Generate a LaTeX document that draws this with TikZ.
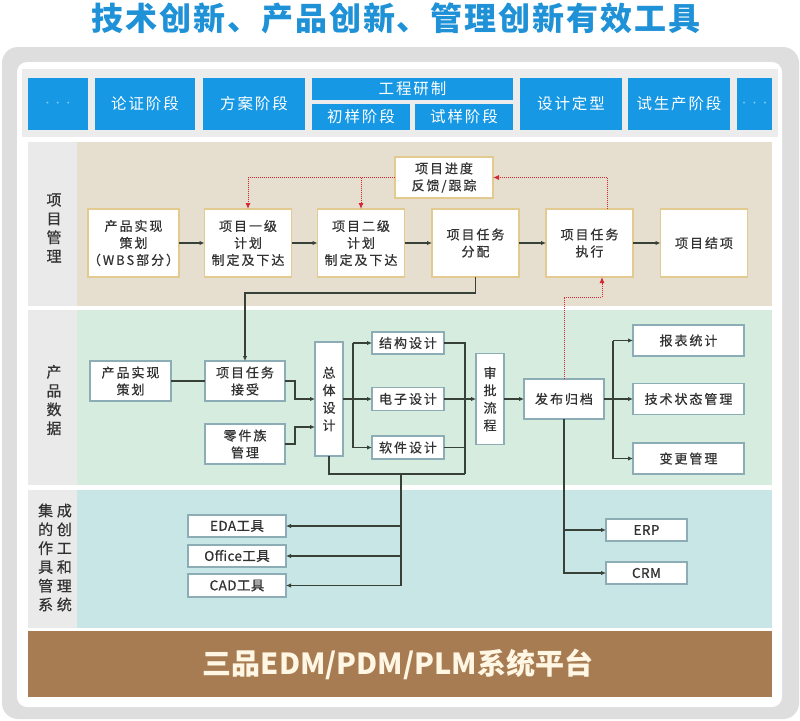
\documentclass[tikz,border=0pt]{standalone}
\usepackage{fontspec}
\setmainfont{Noto Sans CJK SC}
\newfontfamily\bxf{Noto Sans CJK SC}[LetterSpace=15,FakeBold=0.6]
\newfontfamily\ltf{Noto Sans CJK SC}[LetterSpace=3,FakeBold=0.6]
\newfontfamily\hdf{Noto Sans CJK SC}[LetterSpace=12]
\newfontfamily\ttlf{Noto Sans CJK SC}[LetterSpace=6]
\newfontfamily\lblf{Noto Sans CJK SC}[LetterSpace=25,FakeBold=0.5]
\usetikzlibrary{arrows.meta}
\definecolor{framegray}{RGB}{222,222,222}
\definecolor{headgray}{RGB}{236,236,236}
\definecolor{labgray}{RGB}{234,234,234}
\definecolor{beige}{RGB}{230,222,206}
\definecolor{mint}{RGB}{213,236,222}
\definecolor{aqua}{RGB}{200,230,230}
\definecolor{platbrown}{RGB}{168,124,82}
\definecolor{hblue}{RGB}{22,152,228}
\definecolor{titleblue}{RGB}{30,145,215}
\definecolor{tanborder}{RGB}{226,202,145}
\definecolor{tealborder}{RGB}{140,172,182}
\definecolor{txtgray}{RGB}{50,50,50}
\definecolor{lnc}{RGB}{55,65,55}
\definecolor{redl}{RGB}{212,40,50}
\definecolor{cream}{RGB}{255,246,228}
\definecolor{dotblue}{RGB}{140,205,245}
\tikzset{
  hbox/.style={fill=hblue, text=white, inner sep=0pt, outer sep=0pt, font=\hdf\fontsize{15.5}{17}\selectfont},
  dotbox/.style={fill=hblue, text=dotblue, inner sep=0pt, outer sep=0pt, font=\fontsize{9}{10}\selectfont},
  pbox/.style={draw=tanborder, line width=1.3pt, fill=white, text=txtgray, inner sep=0pt, outer sep=0pt, align=center, minimum width=87pt, minimum height=68pt, font=\bxf\fontsize{13}{17}\selectfont},
  gbox/.style={draw=tealborder, line width=1.1pt, fill=white, text=txtgray, inner sep=0pt, outer sep=0pt, align=center, font=\bxf\fontsize{13}{17}\selectfont},
  tbox/.style={gbox, font=\ltf\fontsize{13.5}{17}\selectfont},
  vbox/.style={gbox, font=\bxf\fontsize{13}{17.5}\selectfont},
  lbl/.style={text=txtgray, align=center, font=\lblf\fontsize{15}{18.8}\selectfont},
  conn/.style={draw=lnc, line width=1.3pt},
  arr/.style={conn, -{Latex[length=5pt,width=4.5pt]}},
  reddot/.style={draw=redl, line width=1pt, densely dotted, -{Latex[length=6pt,width=5pt]}}
}
\begin{document}
\begin{tikzpicture}[x=1pt,y=-1pt]
\useasboundingbox (0,0) rectangle (800,720);
\fill[white] (0,0) rectangle (800,720);
% title
\node[font=\ttlf\bfseries\fontsize{32}{36}\selectfont, text=titleblue] (title) at (396,18) {技术创新、产品创新、管理创新有效工具};
% frame
\fill[framegray, rounded corners=16pt] (2,47) rectangle (799,719);
\fill[white, rounded corners=10pt] (17,62) rectangle (782,707);
\fill[headgray] (22,69) rectangle (778,137);
% bands
\fill[labgray] (28,142) rectangle (77,306);
\fill[beige] (77,142) rectangle (772,306);
\fill[labgray] (28,310) rectangle (77,485);
\fill[mint] (77,310) rectangle (772,485);
\fill[labgray] (28,490) rectangle (77,628);
\fill[aqua] (77,490) rectangle (772,628);
\fill[platbrown] (28,631) rectangle (772,697);
% header
\node[dotbox, minimum width=60pt, minimum height=52pt] (h0) at (58,104) {·\,·\,·};
\node[hbox, minimum width=100pt, minimum height=52pt] (h1) at (145,104) {论证阶段};
\node[hbox, minimum width=102pt, minimum height=52pt] (h2) at (254,104) {方案阶段};
\node[hbox, minimum width=201pt, minimum height=22pt] (h3) at (412.5,89) {工程研制};
\node[hbox, minimum width=98pt, minimum height=26pt] (h4) at (361,117) {初样阶段};
\node[hbox, minimum width=98pt, minimum height=26pt] (h5) at (464,117) {试样阶段};
\node[hbox, minimum width=102pt, minimum height=52pt] (h6) at (571,104) {设计定型};
\node[hbox, minimum width=102pt, minimum height=52pt] (h7) at (679,104) {试生产阶段};
\node[dotbox, minimum width=35pt, minimum height=52pt] (h8) at (754.5,104) {·\,·\,·};
% row labels
\node[lbl] (l1) at (54,228) {项\\目\\管\\理};
\node[lbl] (l2) at (54,400) {产\\品\\数\\据};
\node[lbl] (l3) at (55,557.5) {集成\\的创\\作工\\具和\\管理\\系统};
% project management row
\node[pbox] (a1) at (133.5,243) {产品实现\\策划\\（WBS部分）};
\node[pbox] (a2) at (248,243) {项目一级\\计划\\制定及下达};
\node[pbox] (a3) at (361,243) {项目二级\\计划\\制定及下达};
\node[pbox] (a4) at (475.5,243) {项目任务\\分配};
\node[pbox] (a5) at (589.5,243) {项目任务\\执行};
\node[pbox] (a6) at (704,243) {项目结项};
\node[pbox, minimum width=98pt, minimum height=41pt] (fb) at (444,177.5) {项目进度\\反馈/跟踪};
% product data row
\node[gbox, minimum width=81pt, minimum height=40pt] (b1) at (130.5,381) {产品实现\\策划};
\node[gbox, minimum width=80pt, minimum height=40pt] (b2) at (245,381) {项目任务\\接受};
\node[gbox, minimum width=80pt, minimum height=40pt] (b3) at (245,444) {零件族\\管理};
\node[vbox, minimum width=28pt, minimum height=114pt] (b4) at (329,399) {总\\体\\设\\计};
\node[gbox, minimum width=72pt, minimum height=22pt] (c1) at (408,343) {结构设计};
\node[gbox, minimum width=72pt, minimum height=23pt] (c2) at (408,399) {电子设计};
\node[gbox, minimum width=72pt, minimum height=23pt] (c3) at (408,447.5) {软件设计};
\node[vbox, minimum width=28pt, minimum height=91pt] (d) at (490,399) {审\\批\\流\\程};
\node[gbox, minimum width=80pt, minimum height=40pt] (e) at (564,399) {发布归档};
\node[gbox, minimum width=111pt, minimum height=31pt] (f1) at (688.5,340.5) {报表统计};
\node[gbox, minimum width=111pt, minimum height=31pt] (f2) at (688.5,399) {技术状态管理};
\node[gbox, minimum width=111pt, minimum height=31pt] (f3) at (688.5,458.5) {变更管理};
% tools row
\node[tbox, minimum width=98pt, minimum height=22pt] (t1) at (237,526) {EDA工具};
\node[tbox, minimum width=98pt, minimum height=22pt] (t2) at (237,556) {Office工具};
\node[tbox, minimum width=98pt, minimum height=23pt] (t3) at (237,585.5) {CAD工具};
\node[tbox, minimum width=81pt, minimum height=22pt] (erp) at (646.5,530) {ERP};
\node[tbox, minimum width=81pt, minimum height=22pt] (crm) at (646.5,573) {CRM};
% platform
\node[font=\bfseries\fontsize{29}{32}\selectfont, text=cream] (plat) at (398,664) {三品EDM/PDM/PLM系统平台};
% connectors: project management
\draw[arr] (a1) -- (a2);
\draw[arr] (a2) -- (a3);
\draw[arr] (a3) -- (a4);
\draw[arr] (a4) -- (a5);
\draw[arr] (a5) -- (a6);
\draw[reddot] ([xshift=17.5pt]a5.north) |- (fb.east);
\draw[reddot] (fb.west) -| (a2.north);
\draw[reddot] (a3.north |- fb.west) -- (a3.north);
\draw[arr] (a4.south) -- ++(0,16) -| (b2.north);
% product data
\draw[conn] (b1) -- (b2);
\draw[arr] (b2.east) -- ++(10,0) |- (b4.west);
\draw[arr] (b3.east) -- ++(10,0) |- ([yshift=-28pt]b4.west);
\draw[arr] (b4.east) -- (c2.west);
\coordinate (bj) at ([xshift=10pt]b4.east);
\draw[conn] (bj |- c1.west) -- (bj |- c3.west);
\draw[arr] (bj |- c1.west) -- (c1.west);
\draw[arr] (bj |- c3.west) -- (c3.west);
\coordinate (cbot) at (465,474);
\draw[conn] (c1.east) -| (cbot);
\draw[conn] (c3.east) -- (c3.east -| cbot);
\draw[arr] (c2.east) -- (d.west);
\draw[conn] (b4.south) |- (cbot);
\coordinate (tj) at (401,474);
\draw[arr] (tj) |- (t3.east);
\draw[arr] (tj |- t1.east) -- (t1.east);
\draw[arr] (tj |- t2.east) -- (t2.east);
\draw[arr] (d.east) -- (e.west);
\draw[arr] (e.east) -- (f2.west);
\coordinate (ej) at ([xshift=9pt]e.east);
\draw[conn] (ej |- f1.west) -- (ej |- f3.west);
\draw[arr] (ej |- f1.west) -- (f1.west);
\draw[arr] (ej |- f3.west) -- (f3.west);
\draw[arr] (e.south) |- (crm.west);
\draw[arr] (e.south |- erp.west) -- (erp.west);
\draw[reddot] (e.north) -- ++(0,-82) -| ([xshift=12.5pt]a5.south);
\end{tikzpicture}
\end{document}
